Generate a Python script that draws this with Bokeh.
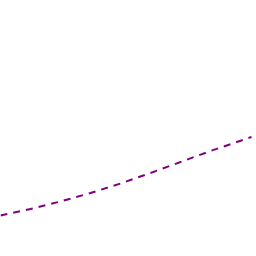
from bokeh.plotting import figure
from bokeh.embed import file_html
from bokeh.resources import INLINE
from bokeh.models import Range1d

xs = [0, 30, 60, 90, 120, 150, 180, 210, 251]
ys = [41, 47.5, 55, 63.5, 73, 83.5, 94.5, 105.5, 119.5]

p = figure(width=256, height=256, output_backend="svg", toolbar_location=None,
           x_range=Range1d(0, 256), y_range=Range1d(0, 256),
           min_border=0, min_border_left=0, min_border_right=0,
           min_border_top=0, min_border_bottom=0)
p.axis.visible = False
p.grid.visible = False
p.outline_line_color = None
p.background_fill_color = "white"
p.border_fill_color = "white"

p.line(xs, ys, line_color="#800080", line_width=2, line_dash="7 6")

open("out.html", "w").write(file_html(p, INLINE))
